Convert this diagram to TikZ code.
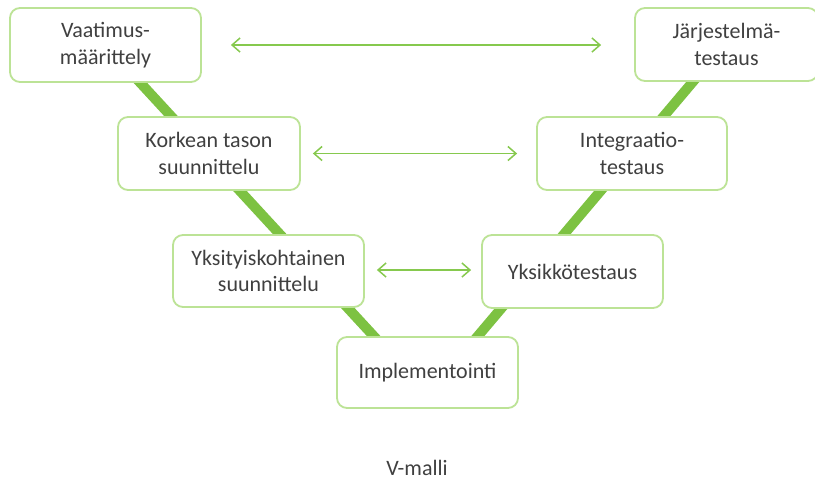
\documentclass[tikz,border=0pt]{standalone}
\usepackage{fontspec}
\setmainfont{Carlito}
\usetikzlibrary{arrows.meta}
\definecolor{vgreen}{HTML}{7DC242}
\definecolor{bgreen}{HTML}{BCE396}
\definecolor{agreen}{HTML}{86C94E}
\definecolor{txt}{HTML}{404040}
\begin{document}
\begin{tikzpicture}[x=1pt,y=-1pt,
  box/.style={draw=bgreen, line width=1.8pt, rounded corners=10pt, fill=white,
    text=txt, align=center, inner sep=0pt,
    font=\fontsize{22}{26.5}\selectfont},
  vline/.style={draw=vgreen, line width=10pt},
  biarr/.style={draw=agreen, line width=1.5pt, {Straight Barb[length=8pt,width=14pt]}-{Straight Barb[length=8pt,width=14pt]}},
  captiontext/.style={text=txt, font=\fontsize{22}{26}\selectfont, inner sep=0pt}]
\useasboundingbox (0,0) rectangle (815,480);
\fill[white] (0,0) rectangle (815,480);
\clip (0,0) rectangle (815,480);
% V line (drawn first, behind boxes)
\coordinate (vbot) at (428,395);
\coordinate (vtl) at (105.5,45);
\coordinate (vtr) at (724,45);
\draw[vline] (vtl) -- (vbot) -- (vtr);
% boxes
\node[box, minimum width=191pt, minimum height=74pt] (vaat) at (105.5,45) {Vaatimus-\\määrittely};
\node[box, minimum width=182pt, minimum height=73pt] (kork) at (209,153.5) {Korkean tason\\suunnittelu};
\node[box, minimum width=191pt, minimum height=72pt] (yksit) at (268.5,271) {Yksityiskohtainen\\suunnittelu};
\node[box, minimum width=181pt, minimum height=71pt] (impl) at (427.5,372.5) {Implementointi};
\node[box, minimum width=181pt, minimum height=73pt] (yksik) at (572.5,271.5) {Yksikkötestaus};
\node[box, minimum width=190pt, minimum height=73pt] (integ) at (632,153.5) {Integraatio-\\testaus};
\node[box, minimum width=183pt, minimum height=73pt] (jarj) at (726.5,44.5) {Järjestelmä-\\testaus};
% arrows
\draw[biarr] ([xshift=29pt]vaat.east) -- ([xshift=-33pt]jarj.west |- vaat.east);
\draw[biarr] ([xshift=12pt]kork.east) -- ([xshift=-19pt]integ.west |- kork.east);
\draw[biarr] ([xshift=12pt,yshift=1pt]yksit.east) -- ([xshift=-10pt,yshift=1pt]yksik.west |- yksit.east);
% caption
\node[captiontext] (title) at (417,468) {V-malli};
\end{tikzpicture}
\end{document}
